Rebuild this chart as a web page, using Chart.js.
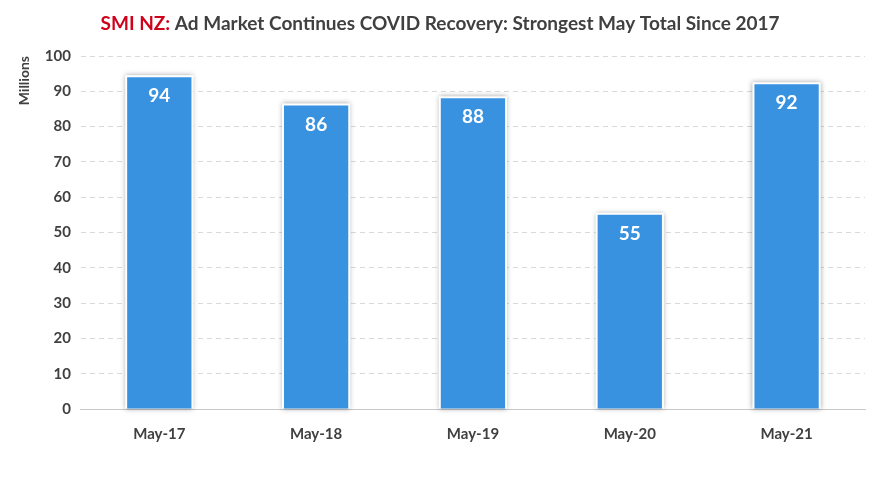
<!DOCTYPE html>
<html>
<head>
<meta charset="utf-8">
<script src="https://cdn.jsdelivr.net/npm/chart.js@4"></script>
<style>
  body { margin: 0; background: #fff; }
  #wrap { width: 890px; height: 484px; }
</style>
</head>
<body>
<div id="wrap"><canvas id="myChart"></canvas></div>
<script>
const categories = ["May-17", "May-18", "May-19", "May-20", "May-21"];
const values = [94, 86, 88, 55, 92];
const yTicks = [0, 10, 20, 30, 40, 50, 60, 70, 80, 90, 100];

// title with red prefix + value labels inside bars
const extras = {
  id: "extras",
  afterDatasetsDraw(chart) {
    const ctx = chart.ctx;
    ctx.save();
    ctx.font = "bold 19px Lato";
    ctx.textBaseline = "middle";
    const a = "SMI NZ: ";
    const b = "Ad Market Continues COVID Recovery: Strongest May Total Since 2017";
    const wa = ctx.measureText(a).width, wb = ctx.measureText(b).width;
    let x = 440 - (wa + wb) / 2;
    ctx.fillStyle = "#d0021b";
    ctx.fillText(a, x, 24);
    ctx.fillStyle = "#404040";
    ctx.fillText(b, x + wa, 24);

    ctx.fillStyle = "#fff";
    ctx.textAlign = "center";
    chart.getDatasetMeta(0).data.forEach((bar, i) => {
      ctx.fillText(values[i], bar.x, bar.y + 19);
    });
    ctx.restore();
  },
  beforeDatasetsDraw(chart) {
    const ctx = chart.ctx;
    ctx.save();
    ctx.shadowColor = "rgba(0,0,0,0.35)";
    ctx.shadowBlur = 5;
    ctx.fillStyle = "#fff";
    chart.getDatasetMeta(0).data.forEach((bar) => {
      ctx.fillRect(bar.x - bar.width / 2 - 2, bar.y - 2, bar.width + 4, bar.base - bar.y + 2);
    });
    ctx.restore();
  }
};

new Chart(document.getElementById("myChart"), {
  type: "bar",
  data: {
    labels: categories,
    datasets: [{
      data: values,
      backgroundColor: "#3892e0",
      borderWidth: 0,
      barPercentage: 0.41,
      categoryPercentage: 1
    }]
  },
  options: {
    responsive: true,
    maintainAspectRatio: false,
    animation: false,
    layout: { padding: { top: 56, right: 25, bottom: 33, left: 14 } },
    plugins: { legend: { display: false }, tooltip: { enabled: false } },
    scales: {
      x: {
        grid: { display: false },
        border: { color: "#c8c8c8" },
        ticks: { color: "#404040", font: { family: "Lato", size: 15, weight: "bold" }, padding: 8 }
      },
      y: {
        min: 0, max: 100,
        afterBuildTicks: (axis) => { axis.ticks = yTicks.map((v) => ({ value: v })); },
        grid: { color: "#d9d9d9", drawTicks: false },
        border: { display: false, dash: [5, 4] },
        ticks: { color: "#404040", font: { family: "Lato", size: 15, weight: "bold" }, padding: 10 },
        title: { display: true, align: "end", text: "Millions", color: "#404040", font: { family: "Lato", size: 14, weight: "bold" }, padding: 2 }
      }
    }
  },
  plugins: [extras]
});
</script>
</body>
</html>
